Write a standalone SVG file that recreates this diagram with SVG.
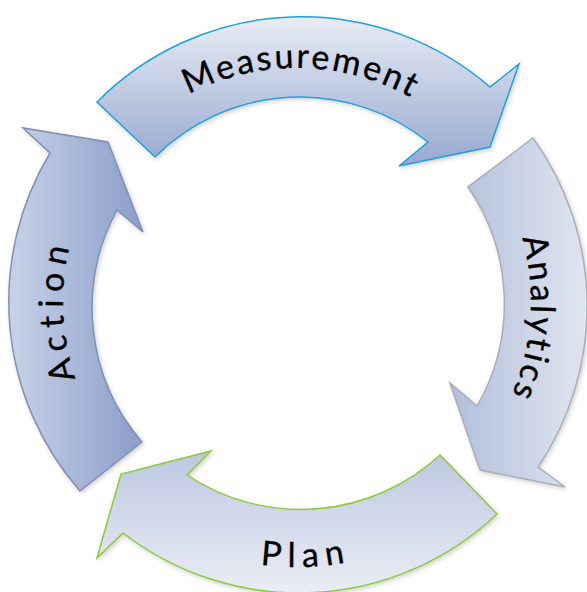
<svg xmlns="http://www.w3.org/2000/svg" width="587" height="592" viewBox="0 0 587 592">
<style>
.lbl{font-family:Lato,"Open Sans","Liberation Sans",sans-serif;font-size:34px;fill:#000;stroke:#000;stroke-width:0.35px;}
</style>
<defs>
<linearGradient id="gM" x1="0" y1="0" x2="0" y2="1"><stop offset="0" stop-color="#E8ECF4"/><stop offset="1" stop-color="#97A8D0"/></linearGradient>
<linearGradient id="gA" x1="1" y1="0" x2="0" y2="0"><stop offset="0" stop-color="#E0E5EF"/><stop offset="1" stop-color="#B2BFDC"/></linearGradient>
<linearGradient id="gP" x1="0" y1="1" x2="0" y2="0"><stop offset="0" stop-color="#EAEDF5"/><stop offset="1" stop-color="#BCC7E0"/></linearGradient>
<linearGradient id="gC" x1="0" y1="0" x2="1" y2="0"><stop offset="0" stop-color="#C8D2E8"/><stop offset="1" stop-color="#8A9CC9"/></linearGradient>
<filter id="sh" x="-10%" y="-10%" width="120%" height="120%"><feDropShadow dx="1.5" dy="2" stdDeviation="2" flood-color="#808080" flood-opacity="0.35"/></filter>
<path id="tpM" d="M96.4,181.5 A234,234 0 0 1 501.7,188.6"/>
<path id="tpA" d="M459.6,133.7 A234,234 0 0 1 434.5,491.3"/>
<path id="tpC" d="M152.9,486.4 A234,234 0 0 1 140.4,128.1"/>
<path id="tpP" d="M100.1,479.3 A265,265 0 0 0 505.8,465.2"/>
</defs>
<g id="connectors"></g>
<g id="measurement">
<path d="M97,102 A288,288 0 0 1 490,87 L519,64 L490,147 L399,166 L428,142 A205,205 0 0 0 155,157 Z" fill="url(#gM)" stroke="#1BA1E2" stroke-width="1.5" stroke-linejoin="miter" filter="url(#sh)"/>
<text class="lbl" font-size="37" letter-spacing="2.5"><textPath href="#tpM" startOffset="50%" text-anchor="middle">Measurement</textPath></text>
</g>
<g id="analytics">
<path d="M533,138 A288,288 0 0 1 538,467 L565,487 L480,470 L450,383 L477,406 A205,205 0 0 0 468,187 Z" fill="url(#gA)" stroke="#A9AEB8" stroke-width="1.5" filter="url(#sh)"/>
<text class="lbl" letter-spacing="3"><textPath href="#tpA" startOffset="50%" text-anchor="middle">Analytics</textPath></text>
</g>
<g id="plan">
<path d="M497,514 A288,288 0 0 1 123,533 L97,558 L121,474 L211,451 L187,475 A205,205 0 0 0 440,455 Z" fill="url(#gP)" stroke="#8CCB3A" stroke-width="1.5" filter="url(#sh)"/>
<text class="lbl" letter-spacing="7"><textPath href="#tpP" startOffset="50%" text-anchor="middle">Plan</textPath></text>
</g>
<g id="action">
<path d="M80,491 A288,288 0 0 1 50,153 L23,128 L108,142 L143,232 L117,210 A205,205 0 0 0 142,442 Z" fill="url(#gC)" stroke="#8290B6" stroke-width="1.5" filter="url(#sh)"/>
<text class="lbl" letter-spacing="7"><textPath href="#tpC" startOffset="50%" text-anchor="middle">Action</textPath></text>
</g>
</svg>
